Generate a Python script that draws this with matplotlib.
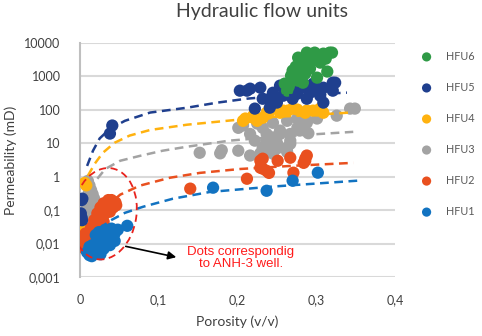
import matplotlib
matplotlib.use("Agg")
import matplotlib.pyplot as plt
from matplotlib.patches import Ellipse
from matplotlib.transforms import ScaledTranslation
from matplotlib.ticker import FixedLocator, FuncFormatter, NullLocator

plt.rcParams['font.family'] = ['Lato', 'DejaVu Sans']

# ---- scatter data (porosity v/v, permeability mD) ----
hfu6_phi = [0.260, 0.263, 0.267, 0.270, 0.273, 0.277, 0.277, 0.279, 0.283, 0.286, 0.288, 0.288,
            0.292, 0.296, 0.298, 0.301, 0.305, 0.309, 0.314, 0.317, 0.320, 0.268, 0.274, 0.283,
            0.295, 0.312, 0.265]
hfu6_k = [610, 375, 650, 1490, 920, 745, 3650, 1490, 650, 1210, 2400, 5150,
          1720, 2960, 5150, 920, 2590, 4800, 1400, 5150, 5150, 1050, 1960, 2960,
          3900, 3400, 495]

hfu5_phi = [0.203, 0.212, 0.216, 0.229, 0.232, 0.241, 0.241, 0.222, 0.245, 0.250, 0.263, 0.270,
            0.279, 0.288, 0.296, 0.301, 0.305, 0.309, 0.309, 0.321, 0.321, 0.324, 0.258, 0.276,
            0.254, 0.267, 0.286, 0.292, 0.041, 0.038, 0.003, 0.002, 0.001, 0.002, 0.0025]
hfu5_k = [375, 375, 430, 460, 215, 215, 116, 109, 325, 165, 375, 215,
          430, 215, 605, 375, 265, 165, 460, 650, 375, 650, 265, 305,
          530, 565, 490, 325, 34, 19.5, 0.22, 0.20, 0.08, 0.06, 0.05]

hfu4_phi = [0.210, 0.220, 0.220, 0.232, 0.237, 0.239, 0.250, 0.254, 0.258, 0.264, 0.270, 0.276,
            0.286, 0.288, 0.296, 0.301, 0.305, 0.309, 0.225, 0.207,
            0.006, 0.008, 0.001, 0.002, 0.003, 0.0005]
hfu4_k = [55, 58, 67, 58, 82, 77, 109, 82, 95, 95, 109, 102,
          82, 95, 95, 95, 109, 82, 47, 47,
          0.65, 0.55, 0.025, 0.018, 0.012, 0.03]

hfu3_phi = [0.152, 0.178, 0.180, 0.201, 0.216, 0.222, 0.229, 0.232, 0.237, 0.237, 0.245, 0.245,
            0.250, 0.250, 0.254, 0.263, 0.263, 0.267, 0.267, 0.225, 0.207, 0.201, 0.216, 0.232,
            0.237, 0.245, 0.245, 0.254, 0.263, 0.267, 0.276, 0.279, 0.276, 0.288, 0.288, 0.301,
            0.326, 0.349, 0.343, 0.290,
            0.010, 0.012, 0.014, 0.016, 0.011, 0.018, 0.013, 0.020, 0.016, 0.021, 0.018, 0.020,
            0.017, 0.008, 0.010, 0.012, 0.014]
hfu3_k = [5.2, 5.0, 6.2, 6.0, 4.3, 12, 5.0, 7.4, 6.0, 12, 4.9, 7.4,
          7.0, 10.4, 19, 7.4, 5.5, 12, 9.7, 39, 34, 29, 19, 29,
          19, 41, 15, 24, 47, 19, 55, 24, 29, 41, 47, 55,
          67, 109, 109, 20,
          0.75, 0.55, 0.40, 0.30, 0.32, 0.22, 0.20, 0.14, 0.12, 0.09, 0.07, 0.05,
          0.035, 0.15, 0.09, 0.06, 0.04]

hfu2_phi = [0.140, 0.212, 0.229, 0.229, 0.232, 0.237, 0.232, 0.251, 0.267, 0.271, 0.284, 0.286,
            0.288, 0.286, 0.240,
            0.040, 0.045, 0.042, 0.035, 0.030, 0.026, 0.032, 0.038, 0.028, 0.022, 0.018, 0.024,
            0.030, 0.014, 0.020, 0.026, 0.010, 0.016, 0.022, 0.008, 0.012, 0.006, 0.010, 0.005,
            0.007, 0.036, 0.046]
hfu2_k = [0.44, 0.87, 3.0, 1.86, 1.74, 1.5, 3.46, 3.0, 3.7, 1.32, 2.6, 3.46,
          4.3, 3.0, 1.3,
          0.20, 0.17, 0.12, 0.13, 0.16, 0.12, 0.08, 0.09, 0.06, 0.08, 0.05, 0.04,
          0.045, 0.03, 0.025, 0.025, 0.018, 0.015, 0.015, 0.010, 0.009, 0.007, 0.006, 0.013,
          0.02, 0.2, 0.14]

hfu1_phi = [0.169, 0.237, 0.270, 0.302,
            0.060, 0.048, 0.044, 0.040, 0.036, 0.032, 0.028, 0.024, 0.020, 0.040, 0.034, 0.028,
            0.022, 0.016, 0.012, 0.030, 0.024, 0.018, 0.012, 0.009, 0.044, 0.038, 0.015, 0.026]
hfu1_k = [0.47, 0.38, 0.76, 1.32,
          0.034, 0.026, 0.020, 0.028, 0.022, 0.026, 0.020, 0.022, 0.018, 0.014, 0.012, 0.011,
          0.010, 0.009, 0.008, 0.007, 0.006, 0.005, 0.0045, 0.0055, 0.012, 0.009, 0.0042, 0.0048]

# ---- dashed trend curves ----
fit6_phi = []
fit6_k = []
fit5_phi = [0.009, 0.0165, 0.025, 0.038, 0.057, 0.089, 0.136, 0.174, 0.212, 0.258, 0.339]
fit5_k = [2.1, 6, 14, 27, 47, 83, 116, 164, 216, 267, 327]
fit4_phi = [0.010, 0.019, 0.029, 0.044, 0.063, 0.089, 0.136, 0.174, 0.229, 0.279, 0.343]
fit4_k = [1.07, 2.5, 5.2, 10.4, 17, 25, 36, 44, 59, 67, 83]
fit3_phi = [0.022, 0.032, 0.051, 0.076, 0.105, 0.136, 0.190, 0.254, 0.347]
fit3_k = [0.87, 1.7, 3.0, 4.2, 6.0, 7.9, 12, 16, 22]
fit2_phi = [0.032, 0.051, 0.076, 0.114, 0.152, 0.203, 0.267, 0.347]
fit2_k = [0.12, 0.29, 0.54, 0.93, 1.3, 1.7, 2.1, 2.6]
fit1_phi = [0.025, 0.038, 0.057, 0.080, 0.118, 0.165, 0.241, 0.352]
fit1_k = [0.028, 0.048, 0.083, 0.126, 0.22, 0.35, 0.50, 0.76]

labels = ["HFU6", "HFU5", "HFU4", "HFU3", "HFU2", "HFU1"]
colors = ["#2F9A46", "#1F3F8E", "#FFB20F", "#A3A3A3", "#E9501F", "#1273C1"]
x_ticks = [0, 0.1, 0.2, 0.3, 0.4]
y_ticks = [0.001, 0.01, 0.1, 1, 10, 100, 1000, 10000]
y_tick_labels = ["0,001", "0,01", "0,1", "1", "10", "100", "1000", "10000"]

series = {
    "HFU6": (hfu6_phi, hfu6_k, fit6_phi, fit6_k),
    "HFU5": (hfu5_phi, hfu5_k, fit5_phi, fit5_k),
    "HFU4": (hfu4_phi, hfu4_k, fit4_phi, fit4_k),
    "HFU3": (hfu3_phi, hfu3_k, fit3_phi, fit3_k),
    "HFU2": (hfu2_phi, hfu2_k, fit2_phi, fit2_k),
    "HFU1": (hfu1_phi, hfu1_k, fit1_phi, fit1_k),
}
draw_order = ["HFU3", "HFU4", "HFU2", "HFU5", "HFU1", "HFU6"]
zorders = {name: i + 2 for i, name in enumerate(draw_order)}

fig = plt.figure(figsize=(4.82, 3.36), dpi=100)
ax = fig.add_axes([80 / 482, 1 - 277 / 336, 315 / 482, 234 / 336])

handles = {}
for name, col in zip(labels, colors):
    phi, k, fphi, fk = series[name]
    handles[name] = ax.scatter(phi, k, s=78, color=col, edgecolors="none",
                               zorder=zorders[name], label=name)
    if fphi:
        ax.plot(fphi, fk, color=col, lw=1.8, dashes=(3.5, 2.2), zorder=10)

ax.set_yscale("log")
ax.set_xlim(0, 0.4)
ax.set_ylim(0.001, 10000)
ax.yaxis.set_major_locator(FixedLocator(y_ticks))
ax.yaxis.set_minor_locator(NullLocator())
ax.yaxis.set_major_formatter(FuncFormatter(lambda v, p: y_tick_labels[y_ticks.index(min(y_ticks, key=lambda t: abs(t - v)))]))
ax.xaxis.set_major_locator(FixedLocator(x_ticks))
ax.xaxis.set_major_formatter(FuncFormatter(lambda v, p: "0" if v == 0 else f"{v:.1f}".replace(".", ",")))
ax.tick_params(axis="both", length=0, labelsize=9, colors="#404040")
ax.tick_params(axis="y", pad=14)
ax.tick_params(axis="x", pad=12)
ax.grid(axis="y", color="#D9D9D9", lw=1.5, zorder=0)
ax.set_axisbelow(True)
for s in ["top", "right", "bottom"]:
    ax.spines[s].set_visible(False)
ax.spines["left"].set_color("#BFBFBF")
ax.spines["left"].set_linewidth(1.5)

ax.set_xlabel("Porosity (v/v)", fontsize=10, color="#404040", labelpad=7)
ax.set_ylabel("Permeability (mD)", fontsize=10, color="#404040", labelpad=5)
fig.text(262 / 482, 1 - 17 / 336, "Hydraulic flow units", ha="center", va="baseline",
         fontsize=14, color="#404040")

# red dashed ellipse around the ANH-3 points
ell = Ellipse((0, 0), width=0.64, height=0.92, angle=-9, fill=False, edgecolor="#E8231E",
              lw=1.3, ls=(0, (4, 2.5)),
              transform=fig.dpi_scale_trans + ScaledTranslation(0.031, 0.078, ax.transData),
              zorder=12)
ax.add_patch(ell)
ax.annotate("", xy=(0.1257, 0.00376), xytext=(0.0546, 0.0086),
            arrowprops=dict(arrowstyle="-|>", color="black", lw=1.2, mutation_scale=12),
            zorder=12)
ax.text(0.204, 0.0037, "Dots correspondig\nto ANH-3 well.", ha="center", va="center",
        color="#FF1A1A", fontsize=9.5, family="Liberation Sans", linespacing=1.0, zorder=12)

fig.legend([handles[n] for n in labels], labels, loc="upper left",
           bbox_to_anchor=(406 / 482, 1 - 41 / 336), frameon=False, fontsize=7.8,
           labelcolor="#595959", markerscale=0.75, labelspacing=1.85, handletextpad=0.8)

fig.savefig("out.png", dpi=100)
